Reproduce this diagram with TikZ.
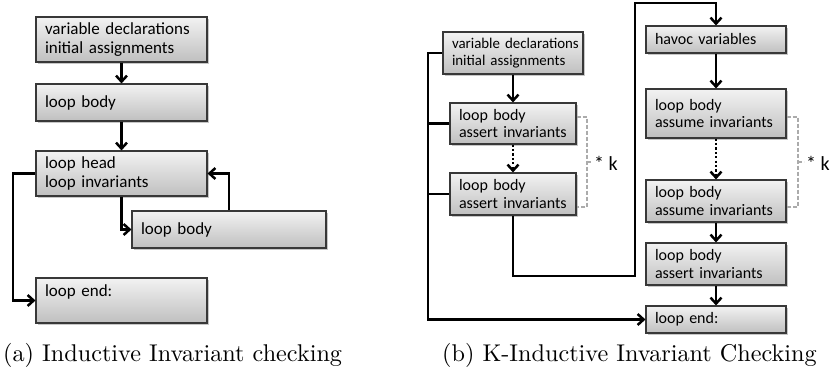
\documentclass[tikz,border=0pt]{standalone}
\usepackage{fontspec}
\newfontfamily\boxfont{Carlito}
\newfontfamily\capfont[Extension=.otf]{lmroman10-regular}
\usetikzlibrary{arrows.meta,shadows}

\begin{document}
\begin{tikzpicture}[x=1pt,y=-1pt,
  blk/.style={draw=black!78, line width=1.1pt, top color=black!5, bottom color=black!25,
    align=left, inner xsep=9pt, inner ysep=0pt,
    drop shadow={shadow xshift=1.6pt, shadow yshift=-1.6pt, fill=black, opacity=0.22}},
  blkL/.style={blk, font=\boxfont\fontsize{17}{19}\selectfont},
  blkR/.style={blk, font=\boxfont\fontsize{16}{17.5}\selectfont},
  blkRs/.style={blk, font=\boxfont\fontsize{14.9}{17}\selectfont},
  flow/.style={line width=2.5pt, -{Straight Barb[length=6pt,width=11pt]}},
  dotflow/.style={flow, dash pattern=on 2.2pt off 2.2pt},
  wire/.style={line width=2.5pt},
  brace/.style={draw=black!33, line width=1.4pt, dash pattern=on 4pt off 2pt},
  mult/.style={font=\boxfont\fontsize{20}{22}\selectfont, inner sep=0pt, anchor=west},
  subcap/.style={font=\capfont\fontsize{24.2}{28}\selectfont, inner sep=0pt, anchor=base west}
]
\useasboundingbox (0,0) rectangle (835,370);

% ---- (a) inductive invariant checking ----
\node[blkL, text width=153pt, minimum height=45pt] (a1) at (121.5,39.5)
  {\mbox{variable declarations}\\initial assignments};
\node[blkL, text width=153pt, minimum height=37pt] (a2) at (121.5,102.5) {loop body};
\node[blkL, text width=153pt, minimum height=45pt] (a3) at (121.5,173.5)
  {loop head\\loop invariants};
\node[blkL, text width=176pt, minimum height=37pt] (a4) at (229,229.5) {loop body};
\node[blkL, text width=153pt, minimum height=45pt] (a5) at (121.5,300.5)
  {loop end:\\\mbox{}};

\draw[flow] (a1) -- (a2);
\draw[flow] (a2) -- (a3);
\draw[flow] (a3.south) |- (a4.west);
\draw[flow] (a4.north) |- (a3.east);
\coordinate (aexit) at (13,173.5);
\draw[flow] (a3.west) -- (aexit) |- (a5.west);

\node[subcap] (capa) at (3,361) {(a) Inductive Invariant checking};

% ---- (b) k-inductive invariant checking ----
\node[blkRs, text width=122pt, minimum height=42pt] (b1) at (513,53)
  {\mbox{variable declarations}\\initial assignments};
\node[blkR, text width=108pt, minimum height=41pt] (b2) at (513,123.5)
  {loop body\\\mbox{assert invariants}};
\node[blkR, text width=108pt, minimum height=42pt] (b3) at (513,194)
  {loop body\\\mbox{assert invariants}};
\node[blkR, text width=122pt, minimum height=27pt] (b4) at (716,39.5) {havoc variables};
\node[blkR, text width=122pt, minimum height=49pt] (b5) at (716,113.5)
  {loop body\\\mbox{assume invariants}};
\node[blkR, text width=122pt, minimum height=42pt] (b6) at (716,201)
  {loop body\\\mbox{assume invariants}};
\node[blkR, text width=122pt, minimum height=42pt] (b7) at (716,264)
  {loop body\\\mbox{assert invariants}};
\node[blkR, text width=122pt, minimum height=27pt] (b8) at (716,319.5) {loop end:};

\draw[flow] (b1) -- (b2);
\draw[dotflow] (b2) -- (b3);
\draw[flow] (b4) -- (b5);
\draw[dotflow] (b5) -- (b6);
\draw[flow] (b6) -- (b7);
\draw[flow] (b7) -- (b8);

% jump from the unrolled base case to the havoc step
\coordinate (jlow) at (635,276);
\coordinate (jtop) at (635,3);
\draw[flow] (b3.south) |- (jlow) -- (jtop) -| (b4.north);

% exit bus on the left
\coordinate (bus) at (428,53);
\draw[flow] (b1.west) -- (bus) |- (b8.west);
\draw[wire] (b2.west) -- (b2.west -| bus);
\draw[wire] (b3.west) -- (b3.west -| bus);

% repetition brackets
\coordinate (k1a) at (587,117);
\coordinate (k1b) at (587,207);
\coordinate (k1m) at (587,162);
\draw[brace] (b2.east |- k1a) -- (k1a) -- (k1b) -- (b3.east |- k1b);
\draw[brace] (k1m) -- ++(5,0) node[mult, draw=none, xshift=1.5pt, yshift=-1pt] (k1) {* k};

\coordinate (k2a) at (798,117);
\coordinate (k2b) at (798,207);
\coordinate (k2m) at (798,162);
\draw[brace] (b5.east |- k2a) -- (k2a) -- (k2b) -- (b6.east |- k2b);
\draw[brace] (k2m) -- ++(6,0) node[mult, draw=none, xshift=1.5pt, yshift=-1pt] (k2) {* k};

\node[subcap] (capb) at (442,361) {(b) K-Inductive Invariant Checking};
\end{tikzpicture}
\end{document}
